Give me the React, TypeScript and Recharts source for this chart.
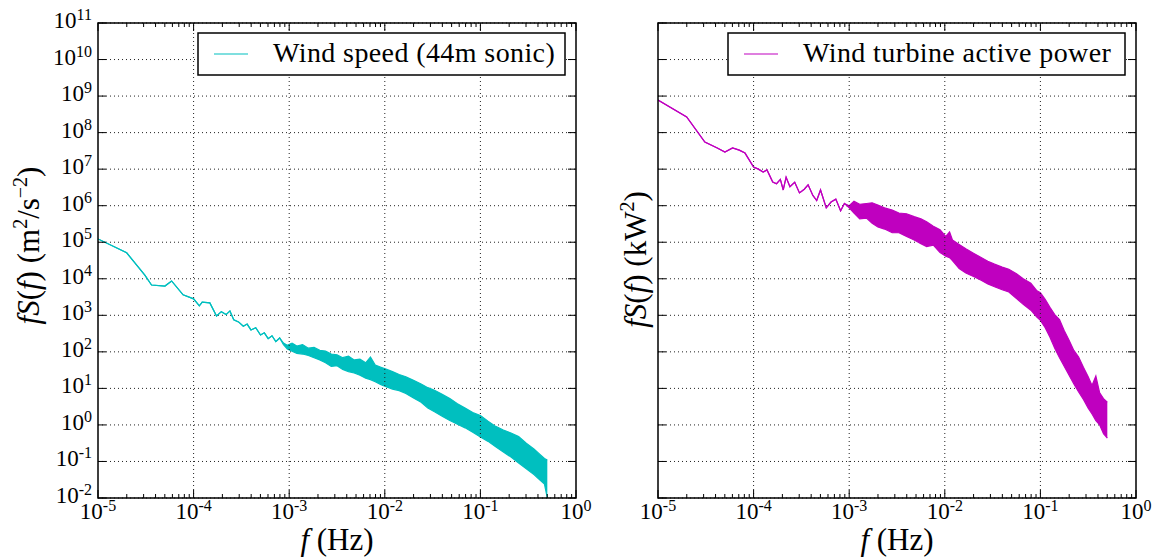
import React from "react";
import {
  ComposedChart, Area, XAxis, YAxis, CartesianGrid, ReferenceLine, ReferenceArea, Label,
} from "recharts";

// ── Style ─────────────────────────────────────────────────────────────────────

const SERIF = '"Liberation Serif", "Times New Roman", serif';
const CYAN = "#00bfbf";
const MAGENTA = "#bf00bf";
const GRID = "#222";
const PLOT_H = 475;

// ── Axes ──────────────────────────────────────────────────────────────────────

const xDecades = [1e-5, 1e-4, 1e-3, 1e-2, 1e-1, 1];
const xDecadeLabels = ["-5", "-4", "-3", "-2", "-1", "0"];
const yDecades = [1e-2, 1e-1, 1, 1e1, 1e2, 1e3, 1e4, 1e5, 1e6, 1e7, 1e8, 1e9, 1e10, 1e11];
const yDecadeLabels = ["-2", "-1", "0", "1", "2", "3", "4", "5", "6", "7", "8", "9", "10", "11"];
const minorSteps = [2, 3, 4, 5, 6, 7, 8, 9];
const xMinor = xDecades.slice(0, -1).flatMap(d => minorSteps.map(m => d * m));
const xAllTicks = [...xDecades, ...xMinor].sort((a, b) => a - b);

// ── Data (log10 f, log10 fS lower / upper edge of the noisy trace) ────────────

const windLogF = [
  -5.00, -4.70, -4.51, -4.44, -4.30, -4.23, -4.11, -4.00, -3.94, -3.91, -3.83, -3.76, -3.71, -3.66,
  -3.62, -3.58, -3.53, -3.48, -3.44, -3.40, -3.35, -3.30, -3.26, -3.22, -3.18, -3.14, -3.10, -3.06,
  -3.02, -2.97, -2.92, -2.86, -2.80, -2.74, -2.68, -2.62, -2.56, -2.50, -2.44, -2.38, -2.32, -2.26,
  -2.20, -2.15, -2.10, -2.04, -1.98, -1.92, -1.85, -1.78, -1.70, -1.62, -1.55, -1.48, -1.40, -1.32,
  -1.24, -1.16, -1.08, -1.00, -0.92, -0.84, -0.76, -0.68, -0.60, -0.52, -0.44, -0.38, -0.33, -0.30,
];
const windLo = [
  5.09, 4.71, 4.10, 3.83, 3.80, 3.94, 3.56, 3.45, 3.26, 3.36, 3.34, 2.98, 3.10, 3.02,
  3.12, 2.88, 2.82, 2.70, 2.76, 2.60, 2.66, 2.46, 2.52, 2.36, 2.44, 2.28, 2.38, 2.20,
  2.08, 2.02, 1.96, 1.94, 1.90, 1.84, 1.78, 1.70, 1.60, 1.62, 1.52, 1.46, 1.42, 1.36,
  1.28, 1.24, 1.18, 1.10, 1.04, 0.98, 0.94, 0.86, 0.74, 0.62, 0.46, 0.36, 0.24, 0.12,
  0.02, -0.08, -0.20, -0.33, -0.45, -0.60, -0.74, -0.88, -1.04, -1.20, -1.36, -1.50, -1.62, -2.00,
];
const windHi = [
  5.09, 4.71, 4.10, 3.83, 3.80, 3.94, 3.56, 3.45, 3.26, 3.36, 3.34, 2.98, 3.10, 3.02,
  3.12, 2.88, 2.82, 2.70, 2.76, 2.60, 2.66, 2.46, 2.52, 2.36, 2.44, 2.28, 2.38, 2.24,
  2.18, 2.24, 2.16, 2.20, 2.10, 2.12, 2.04, 2.02, 1.94, 1.92, 1.84, 1.88, 1.78, 1.80,
  1.70, 1.86, 1.64, 1.58, 1.52, 1.46, 1.38, 1.32, 1.22, 1.12, 1.02, 0.95, 0.84, 0.72,
  0.58, 0.46, 0.34, 0.26, 0.10, -0.04, -0.14, -0.22, -0.32, -0.50, -0.66, -0.80, -0.92, -0.96,
];

const powerLogF = [
  -5.00, -4.70, -4.51, -4.38, -4.30, -4.22, -4.15, -4.09, -4.00, -3.95, -3.90, -3.86, -3.80, -3.76,
  -3.72, -3.69, -3.66, -3.62, -3.57, -3.52, -3.47, -3.43, -3.38, -3.34, -3.30, -3.24, -3.19, -3.14,
  -3.09, -3.05, -3.00, -2.95, -2.89, -2.82, -2.76, -2.70, -2.63, -2.55, -2.48, -2.40, -2.32, -2.25,
  -2.19, -2.12, -2.05, -1.99, -1.95, -1.92, -1.85, -1.78, -1.70, -1.62, -1.55, -1.48, -1.40, -1.33,
  -1.25, -1.18, -1.10, -1.04, -1.00, -0.95, -0.90, -0.85, -0.80, -0.75, -0.70, -0.65, -0.60, -0.55,
  -0.50, -0.46, -0.42, -0.38, -0.34, -0.30,
];
const powerLo = [
  8.89, 8.43, 7.74, 7.58, 7.47, 7.58, 7.52, 7.44, 7.06, 7.00, 6.92, 6.98, 6.65, 6.60,
  6.72, 6.43, 6.78, 6.52, 6.64, 6.35, 6.45, 6.57, 6.28, 6.14, 6.43, 5.94, 6.10, 6.18,
  5.86, 6.06, 5.94, 5.80, 5.64, 5.66, 5.52, 5.42, 5.36, 5.26, 5.26, 5.16, 5.06, 4.96,
  4.88, 4.92, 4.72, 4.62, 4.58, 4.50, 4.28, 4.16, 4.06, 3.96, 3.86, 3.78, 3.70, 3.64,
  3.46, 3.30, 3.14, 2.96, 2.86, 2.66, 2.40, 2.10, 1.84, 1.60, 1.36, 1.12, 0.90, 0.70,
  0.46, 0.30, 0.12, 0.00, -0.24, -0.36,
];
const powerHi = [
  8.89, 8.43, 7.74, 7.58, 7.47, 7.58, 7.52, 7.44, 7.06, 7.00, 6.92, 6.98, 6.65, 6.60,
  6.72, 6.43, 6.78, 6.52, 6.64, 6.35, 6.45, 6.57, 6.28, 6.14, 6.43, 5.94, 6.10, 6.18,
  5.86, 6.06, 6.00, 6.12, 6.04, 6.06, 6.08, 6.02, 5.94, 5.88, 5.80, 5.78, 5.70, 5.64,
  5.56, 5.44, 5.34, 5.16, 5.28, 5.06, 4.94, 4.82, 4.70, 4.58, 4.48, 4.40, 4.32, 4.26,
  4.14, 4.00, 3.88, 3.68, 3.62, 3.44, 3.22, 3.02, 2.88, 2.58, 2.32, 2.04, 1.86, 1.58,
  1.32, 1.08, 1.34, 0.88, 0.72, 0.62,
];

const toRows = (lf: number[], lo: number[], hi: number[]) =>
  lf.map((x, i) => ({ f: Math.pow(10, x), band: [Math.pow(10, lo[i]), Math.pow(10, hi[i])] }));

const windRows = toRows(windLogF, windLo, windHi);
const powerRows = toRows(powerLogF, powerLo, powerHi);

// ── Ticks (matplotlib classic: inward, on all four sides) ─────────────────────

function xTick() {
  return (p: any) => {
    const { x, y, payload } = p;
    const idx = xDecades.findIndex(d => Math.abs(d - payload.value) / d < 1e-6);
    const len = idx >= 0 ? 8 : 4;
    return (
      <g>
        <line x1={x} x2={x} y1={y} y2={y - len} stroke="#000" strokeWidth={1} />
        <line x1={x} x2={x} y1={y - PLOT_H} y2={y - PLOT_H + len} stroke="#000" strokeWidth={1} />
        {idx >= 0 && (
          <text x={x} y={y + 21} textAnchor="middle" fontFamily={SERIF} fontSize={23} fill="#000">
            10<tspan dy={-8} fontSize={16}>{xDecadeLabels[idx]}</tspan>
          </text>
        )}
      </g>
    );
  };
}

function yTick(plotW: number, showLabels: boolean) {
  return (p: any) => {
    const { x, y, payload } = p;
    const idx = yDecades.findIndex(d => Math.abs(d - payload.value) / d < 1e-6);
    return (
      <g>
        <line x1={x} x2={x + 8} y1={y} y2={y} stroke="#000" strokeWidth={1} />
        <line x1={x + plotW} x2={x + plotW - 8} y1={y} y2={y} stroke="#000" strokeWidth={1} />
        {showLabels && idx >= 0 && (
          <text x={x - 6} y={y + 5} textAnchor="end" fontFamily={SERIF} fontSize={23} fill="#000">
            10<tspan dy={-8} fontSize={16}>{yDecadeLabels[idx]}</tspan>
          </text>
        )}
      </g>
    );
  };
}

// ── Axis titles ───────────────────────────────────────────────────────────────

function XTitle({ viewBox }: any) {
  const cx = viewBox.x + viewBox.width / 2;
  const cy = viewBox.y + 52;
  return (
    <text x={cx} y={cy} textAnchor="middle" fontFamily={SERIF} fontSize={31} fill="#000">
      <tspan fontStyle="italic">f</tspan> (Hz)
    </text>
  );
}

function YTitle({ viewBox, unit, dx, dy }: any) {
  const cx = viewBox.x + dx;
  const cy = viewBox.y + viewBox.height / 2 + dy;
  return (
    <text x={cx} y={cy} transform={`rotate(-90 ${cx} ${cy})`} textAnchor="middle"
      fontFamily={SERIF} fontSize={31} fill="#000">
      <tspan fontStyle="italic">fS</tspan>(<tspan fontStyle="italic">f</tspan>) {unit}
    </text>
  );
}

const windUnit = (
  <>
    (m<tspan dy={-12} fontSize={20}>2</tspan><tspan dy={12}>/s</tspan>
    <tspan dy={-12} fontSize={20}>−2</tspan><tspan dy={12}>)</tspan>
  </>
);
const powerUnit = (
  <>
    (kW<tspan dy={-12} fontSize={20}>2</tspan><tspan dy={12}>)</tspan>
  </>
);

// ── Panel ─────────────────────────────────────────────────────────────────────

type PanelProps = {
  rows: { f: number; band: number[] }[];
  color: string;
  width: number;
  yWidth: number;
  marginRight: number;
  showYLabels: boolean;
  unit: React.ReactNode;
  titleDx: number;
  titleDy: number;
};

function Panel({ rows, color, width, yWidth, marginRight, showYLabels, unit, titleDx, titleDy }: PanelProps) {
  const plotW = width - yWidth - marginRight;
  return (
    <ComposedChart width={width} height={558} data={rows}
      margin={{ top: 23, right: marginRight, bottom: 0, left: 0 }}>
      <CartesianGrid vertical={false} stroke={GRID} strokeWidth={1} strokeDasharray="1 3" />
      {xDecades.slice(1, -1).map(d => (
        <ReferenceLine key={d} x={d} stroke={GRID} strokeWidth={1} strokeDasharray="1 3" />
      ))}
      <XAxis dataKey="f" type="number" scale="log" domain={[1e-5, 1]} allowDataOverflow
        ticks={xAllTicks} interval={0} tick={xTick()} tickLine={false} axisLine={false}
        tickSize={0} tickMargin={0} height={60}>
        <Label content={(p: any) => <XTitle viewBox={p.viewBox} />} />
      </XAxis>
      <YAxis type="number" scale="log" domain={[1e-2, 1e11]} allowDataOverflow
        ticks={yDecades} interval={0} tick={yTick(plotW, showYLabels)} tickLine={false} axisLine={false}
        tickSize={0} tickMargin={0} width={yWidth}>
        <Label content={(p: any) => <YTitle viewBox={p.viewBox} unit={unit} dx={titleDx} dy={titleDy} />} />
      </YAxis>
      <Area type="linear" dataKey="band" stroke={color} fill={color} fillOpacity={1}
        strokeWidth={1.2} dot={false} activeDot={false} isAnimationActive={false} />
      <ReferenceArea x1={1e-5} x2={1} y1={1e-2} y2={1e11} fill="none" fillOpacity={0}
        stroke="#000" strokeWidth={1.5} />
    </ComposedChart>
  );
}

// ── Legends ───────────────────────────────────────────────────────────────────

const legendNames = ["Wind speed (44m sonic)", "Wind turbine active power"];
const legendColors = [CYAN, MAGENTA];
const legendBoxes = [
  { x: 198, w: 367 },
  { x: 728, w: 397 },
];

export default function App() {
  return (
    <div style={{ position: "absolute", left: 0, top: 0, width: 1162, height: 558, background: "#fff" }}>
      <div style={{ position: "absolute", left: 0, top: 0 }}>
        <Panel rows={windRows} color={CYAN} width={600} yWidth={98} marginRight={24}
          showYLabels unit={windUnit} titleDx={39} titleDy={-15} />
      </div>
      <div style={{ position: "absolute", left: 600, top: 0 }}>
        <Panel rows={powerRows} color={MAGENTA} width={562} yWidth={58} marginRight={26}
          showYLabels={false} unit={powerUnit} titleDx={46} titleDy={-1} />
      </div>
      <svg width={1162} height={558} style={{ position: "absolute", left: 0, top: 0, pointerEvents: "none" }}>
        {legendBoxes.map((b, i) => (
          <g key={legendNames[i]}>
            <rect x={b.x} y={33} width={b.w} height={42} fill="#fff" stroke="#000" strokeWidth={1.5} />
            <line x1={b.x + 16} x2={b.x + 50} y1={54} y2={54} stroke={legendColors[i]} strokeWidth={1.2} />
            <text x={b.x + 75} y={62} fontFamily={SERIF} fontSize={28} letterSpacing={0.4} fill="#000">
              {legendNames[i]}
            </text>
          </g>
        ))}
      </svg>
    </div>
  );
}
